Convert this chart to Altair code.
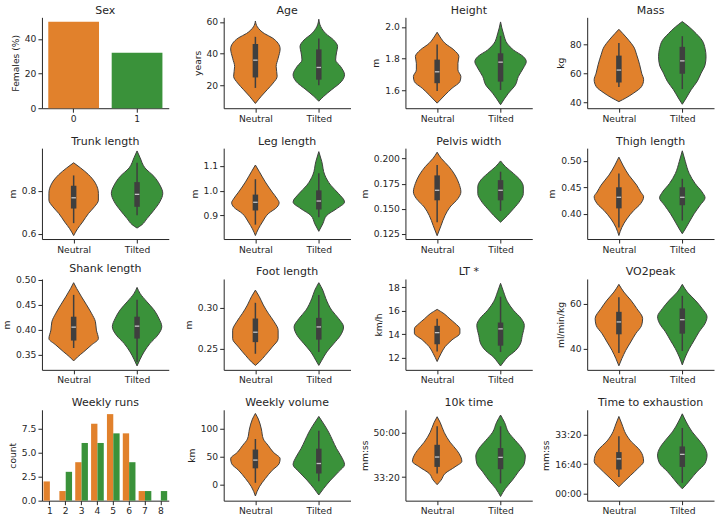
import altair as alt
import pandas as pd

GROUPS = ["Neutral", "Tilted"]
PALETTE = ["#e1812c", "#3a923a"]
INK = "#262626"
LINE = "#3f3f3f"
FONT = "DejaVu Sans"
HALF = 0.39  # half-width of a violin at relative density 1.0 (category units)

# ---- bar panels -------------------------------------------------------------
sex_codes = ["0", "1"]
sex_female_pct = [50, 32]

runs_per_week = [1, 2, 3, 4, 5, 6, 7, 8]
runs_count_neutral = [2, 1, 4, 8, 9, 7, 1, 0]
runs_count_tilted = [0, 3, 6, 6, 7, 4, 1, 1]

# ---- violin profiles: value levels, relative density, box [lo, q1, med, q3, hi]
age_y_neutral = [8.6, 13.2, 17.3, 21.5, 25.7, 31.9, 37.1, 43.0, 46.5, 50.0, 52.7, 56.9, 60.6]
age_w_neutral = [0, .24, .48, .72, .88, .84, .92, 1.0, .92, .68, .36, .08, 0]
age_y_tilted = [10, 13.1, 17.3, 22.5, 26.7, 31.9, 36.0, 41.0, 44.4, 48.6, 52.7, 57.0, 61.7]
age_w_tilted = [0, .2, .52, .92, 1.04, .88, .68, .72, .76, .6, .28, .08, 0]
age_box_neutral = [18.4, 25.0, 35.9, 46.1, 50.6]
age_box_tilted = [20.0, 23.6, 31.3, 42.7, 49.6]

height_y_neutral = [1.519, 1.571, 1.613, 1.655, 1.687, 1.729, 1.771, 1.813, 1.855, 1.897, 1.937, 1.967]
height_w_neutral = [0, .32, .6, .92, .96, .84, .84, .88, .68, .32, .12, 0]
height_y_tilted = [1.509, 1.582, 1.634, 1.687, 1.740, 1.782, 1.813, 1.855, 1.893, 1.956, 2.032]
height_w_tilted = [0, .32, .6, .72, .92, 1.04, .92, .52, .28, .12, 0]
height_box_neutral = [1.596, 1.645, 1.717, 1.794, 1.889]
height_box_tilted = [1.602, 1.655, 1.778, 1.834, 1.944]

mass_y_neutral = [40.7, 43.2, 46.6, 51.1, 55.7, 60.2, 65.9, 72.7, 78.2, 82.7, 87.3, 90.2]
mass_w_neutral = [0, .28, .6, .92, 1.0, .92, .84, .72, .6, .4, .16, 0]
mass_y_tilted = [38.9, 43.2, 48.9, 54.5, 60.2, 65.8, 71.4, 77.1, 82.7, 87.3, 91.8, 95.5]
mass_w_tilted = [0, .16, .36, .6, .76, .92, .96, .92, .8, .56, .28, 0]
mass_box_neutral = [50.7, 53.8, 62.3, 72.2, 80.9]
mass_box_tilted = [49.3, 59.8, 68.6, 78.2, 85.5]

trunk_y_neutral = [0.592, 0.624, 0.655, 0.695, 0.726, 0.757, 0.789, 0.836, 0.876, 0.907, 0.931]
trunk_w_neutral = [0, .16, .36, .6, .84, 1.0, 1.0, .88, .6, .28, 0]
trunk_y_tilted = [0.627, 0.643, 0.671, 0.710, 0.749, 0.789, 0.828, 0.868, 0.907, 0.955, 0.986]
trunk_w_tilted = [0, .2, .4, .68, .92, 1.04, .92, .68, .32, .12, 0]
trunk_box_neutral = [0.650, 0.718, 0.768, 0.824, 0.872]
trunk_box_tilted = [0.687, 0.726, 0.784, 0.841, 0.931]

leg_y_neutral = [0.819, 0.846, 0.873, 0.907, 0.934, 0.951, 0.967, 0.994, 1.035, 1.076, 1.103]
leg_w_neutral = [0, .12, .28, .52, .88, .96, .88, .68, .4, .16, 0]
leg_y_tilted = [0.836, 0.866, 0.900, 0.927, 0.954, 0.988, 1.022, 1.063, 1.117, 1.157]
leg_w_tilted = [0, .16, .32, .72, 1.04, .8, .48, .24, .12, 0]
leg_box_neutral = [0.863, 0.920, 0.953, 0.984, 1.046]
leg_box_tilted = [0.893, 0.924, 0.958, 1.001, 1.070]

pelvis_y_neutral = [0.1233, 0.1335, 0.1435, 0.1518, 0.1602, 0.1669, 0.1753, 0.1837, 0.1920, 0.2004, 0.2064]
pelvis_w_neutral = [0, .16, .32, .52, .84, .96, .88, .72, .48, .16, 0]
pelvis_y_tilted = [0.1367, 0.1435, 0.1500, 0.1585, 0.1652, 0.1719, 0.1786, 0.1853, 0.1920, 0.1977]
pelvis_w_tilted = [0, .28, .52, .8, .92, .92, .8, .52, .2, 0]
pelvis_box_neutral = [0.1367, 0.1585, 0.1685, 0.1833, 0.1936]
pelvis_box_tilted = [0.1480, 0.1585, 0.1685, 0.1786, 0.1870]

thigh_y_neutral = [0.3586, 0.374, 0.390, 0.406, 0.419, 0.432, 0.441, 0.454, 0.473, 0.492, 0.507]
thigh_w_neutral = [0, .12, .32, .6, .88, 1.0, .88, .72, .4, .16, 0]
thigh_y_tilted = [0.362, 0.371, 0.384, 0.400, 0.416, 0.430, 0.441, 0.457, 0.476, 0.499, 0.519]
thigh_w_tilted = [0, .12, .28, .48, .72, .92, .8, .52, .28, .12, 0]
thigh_box_neutral = [0.374, 0.410, 0.431, 0.450, 0.476]
thigh_box_tilted = [0.387, 0.416, 0.431, 0.450, 0.466]

shank_y_neutral = [0.337, 0.345, 0.355, 0.369, 0.382, 0.399, 0.416, 0.433, 0.450, 0.466, 0.483, 0.4945]
shank_w_neutral = [0, .16, .4, .72, 1.0, .92, .88, .72, .52, .32, .12, 0]
shank_y_tilted = [0.327, 0.340, 0.355, 0.372, 0.389, 0.406, 0.423, 0.440, 0.456, 0.473, 0.485]
shank_w_tilted = [0, .12, .28, .52, .84, 1.0, .88, .68, .4, .12, 0]
shank_box_neutral = [0.363, 0.378, 0.405, 0.426, 0.470]
shank_box_tilted = [0.335, 0.382, 0.407, 0.426, 0.460]

foot_y_neutral = [0.2298, 0.234, 0.242, 0.252, 0.2622, 0.2724, 0.2825, 0.293, 0.303, 0.313, 0.321]
foot_w_neutral = [0, .16, .4, .68, .92, .92, .76, .52, .32, .16, 0]
foot_y_tilted = [0.2298, 0.236, 0.246, 0.256, 0.2663, 0.2764, 0.2866, 0.2967, 0.311, 0.321, 0.330]
foot_w_tilted = [0, .12, .32, .6, .88, 1.0, .8, .52, .28, .16, 0]
foot_box_neutral = [0.2439, 0.258, 0.270, 0.2866, 0.3056]
foot_box_tilted = [0.246, 0.261, 0.2764, 0.2874, 0.315]

lt_y_neutral = [11.68, 12.37, 12.94, 13.52, 14.09, 14.46, 14.94, 15.30, 15.75, 16.12]
lt_w_neutral = [0, .16, .32, .6, .92, .92, .72, .52, .28, 0]
lt_y_tilted = [11.3, 11.63, 12.05, 12.6, 13.18, 13.9, 14.76, 15.33, 16.05, 16.77, 17.62, 18.34]
lt_w_tilted = [0, .12, .28, .6, .8, .88, .96, .84, .52, .28, .12, 0]
lt_box_neutral = [12.54, 13.15, 14.14, 14.72, 15.33]
lt_box_tilted = [12.49, 13.03, 14.46, 15.00, 17.20]

vo2_y_neutral = [32.4, 35.6, 39.3, 43.0, 46.7, 50.4, 53.4, 57.9, 61.6, 65.2, 68.6]
vo2_w_neutral = [0, .12, .28, .48, .68, .92, .96, .72, .48, .2, 0]
vo2_y_tilted = [32.8, 36.3, 40.0, 43.7, 47.5, 51.2, 54.2, 57.9, 61.6, 65.2, 68.6]
vo2_w_tilted = [0, .12, .28, .48, .68, .92, 1.0, .8, .52, .2, 0]
vo2_box_neutral = [38.1, 46.4, 51.9, 56.4, 62.9]
vo2_box_tilted = [39.0, 46.7, 52.9, 57.9, 63.5]

volume_y_neutral = [-20.6, -4.2, 10.5, 25.2, 37.0, 45.8, 57.6, 69.3, 81.1, 98.8, 116.4, 126.5]
volume_w_neutral = [0, .16, .4, .68, .96, 1.0, .72, .52, .32, .24, .12, 0]
volume_y_tilted = [-18.8, -6.9, 7.8, 22.5, 35.4, 48.9, 63.7, 78.4, 93.1, 107.8, 121.2]
volume_w_tilted = [0, .2, .48, .8, 1.04, .92, .72, .56, .4, .2, 0]
volume_box_neutral = [2.9, 28.7, 43.4, 62.2, 81.0]
volume_box_tilted = [5.9, 19.5, 37.3, 63.7, 95.6]

# times in seconds
tenk_y_neutral = [1831, 1934, 2083, 2232, 2358, 2455, 2604, 2791, 3015, 3238, 3364]
tenk_w_neutral = [0, .16, .32, .72, 1.0, .96, .8, .52, .28, .12, 0]
tenk_y_tilted = [1564, 1748, 1934, 2120, 2306, 2478, 2642, 2828, 3015, 3238, 3402]
tenk_w_tilted = [0, .2, .48, .72, .96, 1.0, .88, .6, .32, .16, 0]
tenk_box_neutral = [2083, 2232, 2455, 2731, 3149]
tenk_box_tilted = [1860, 2180, 2448, 2657, 3149]

tte_y_neutral = [224, 393, 620, 847, 1095, 1299, 1525, 1750, 2034, 2373, 2630]
tte_w_neutral = [0, .2, .48, .76, 1.0, .96, .8, .52, .28, .12, 0]
tte_y_tilted = [156, 300, 464, 746, 1029, 1311, 1537, 1819, 2102, 2441, 2720]
tte_w_tilted = [0, .16, .32, .6, .92, 1.0, .92, .68, .4, .16, 0]
tte_box_neutral = [563, 815, 1180, 1412, 1953]
tte_box_tilted = [359, 904, 1333, 1605, 2237]

W, H = 127, 91
COLOR = alt.Color("group:N", scale=alt.Scale(domain=GROUPS, range=PALETTE), legend=None)
MMSS = ("pad('' + floor(datum.value / 60), 2, '0', 'left') + ':' + "
        "pad('' + (datum.value % 60), 2, '0', 'left')")


def violin_panel(title, ylabel, profiles, boxes, domain, ticks, fmt=None, mmss=False):
    rows = []
    for pos, (levels, dens) in enumerate(profiles):
        for y, d in sorted(zip(levels, dens)):
            rows.append({"group": GROUPS[pos], "y": y,
                         "left": pos - HALF * d, "right": pos + HALF * d})
    outline = pd.DataFrame(rows)
    stats = pd.DataFrame([
        {"group": GROUPS[i], "pos": i, "lo": b[0], "q1": b[1], "med": b[2], "q3": b[3], "hi": b[4]}
        for i, b in enumerate(boxes)
    ])

    xs = alt.Scale(domain=[-0.5, 1.5], nice=False, zero=False)
    xa = alt.Axis(values=[0, 1], labelExpr="datum.value == 0 ? 'Neutral' : 'Tilted'")
    ys = alt.Scale(domain=domain, nice=False, zero=False)
    ya_kw = {"values": ticks}
    if fmt:
        ya_kw["format"] = fmt
    if mmss:
        ya_kw["labelExpr"] = MMSS
    ya = alt.Axis(**ya_kw)

    def X(f):
        return alt.X(f, scale=xs, axis=xa, title=None)

    def Y(f):
        return alt.Y(f, scale=ys, axis=ya, title=ylabel)

    violins = alt.Chart(outline).mark_area(
        orient="horizontal", interpolate="monotone", stroke=LINE, strokeWidth=1, opacity=1
    ).encode(y=Y("y:Q"), x=X("left:Q"), x2="right:Q", color=COLOR)

    whisker = alt.Chart(stats).mark_rule(color=LINE, strokeWidth=1.5).encode(
        x=X("pos:Q"), y=Y("lo:Q"), y2="hi:Q")
    box = alt.Chart(stats).mark_rule(color=LINE, strokeWidth=5.5, strokeCap="butt").encode(
        x=X("pos:Q"), y=Y("q1:Q"), y2="q3:Q")
    median = alt.Chart(stats).mark_tick(color="white", orient="horizontal", size=4.5, thickness=1.3).encode(
        x=X("pos:Q"), y=Y("med:Q"))

    return alt.layer(violins, whisker, box, median).properties(title=title, width=W, height=H)


band = alt.Scale(paddingInner=0.2, paddingOuter=0.1)

sex_df = pd.DataFrame({"sex": sex_codes, "pct": sex_female_pct, "group": GROUPS})
sex_panel = alt.Chart(sex_df).mark_bar().encode(
    x=alt.X("sex:N", scale=band, axis=alt.Axis(labelAngle=0), title=None),
    y=alt.Y("pct:Q", scale=alt.Scale(domain=[0, 52.5], nice=False),
            axis=alt.Axis(values=[0, 20, 40]), title="Females (%)"),
    color=COLOR,
).properties(title="Sex", width=W, height=H)

runs_df = pd.DataFrame(
    [{"runs": r, "count": c, "group": "Neutral"} for r, c in zip(runs_per_week, runs_count_neutral)]
    + [{"runs": r, "count": c, "group": "Tilted"} for r, c in zip(runs_per_week, runs_count_tilted)]
)
runs_panel = alt.Chart(runs_df).mark_bar().encode(
    x=alt.X("runs:O", scale=band, axis=alt.Axis(labelAngle=0), title=None),
    xOffset=alt.XOffset("group:N", sort=GROUPS),
    y=alt.Y("count:Q", scale=alt.Scale(domain=[0, 9.45], nice=False),
            axis=alt.Axis(values=[0, 2.5, 5, 7.5], format=".1f"), title="count"),
    color=COLOR,
).properties(title="Weekly runs", width=W, height=H)

panels = [
    sex_panel,
    violin_panel("Age", "years", [(age_y_neutral, age_w_neutral), (age_y_tilted, age_w_tilted)],
                 [age_box_neutral, age_box_tilted], [5.6, 62.9], [20, 40, 60]),
    violin_panel("Height", "m", [(height_y_neutral, height_w_neutral), (height_y_tilted, height_w_tilted)],
                 [height_box_neutral, height_box_tilted], [1.487, 2.061], [1.6, 1.8, 2.0], ".1f"),
    violin_panel("Mass", "kg", [(mass_y_neutral, mass_w_neutral), (mass_y_tilted, mass_w_tilted)],
                 [mass_box_neutral, mass_box_tilted], [36.2, 98.4], [40, 60, 80]),
    violin_panel("Trunk length", "m", [(trunk_y_neutral, trunk_w_neutral), (trunk_y_tilted, trunk_w_tilted)],
                 [trunk_box_neutral, trunk_box_tilted], [0.576, 0.999], [0.6, 0.8], ".1f"),
    violin_panel("Leg length", "m", [(leg_y_neutral, leg_w_neutral), (leg_y_tilted, leg_w_tilted)],
                 [leg_box_neutral, leg_box_tilted], [0.805, 1.171], [0.9, 1.0, 1.1], ".1f"),
    violin_panel("Pelvis width", "m", [(pelvis_y_neutral, pelvis_w_neutral), (pelvis_y_tilted, pelvis_w_tilted)],
                 [pelvis_box_neutral, pelvis_box_tilted], [0.120, 0.2104], [0.125, 0.15, 0.175, 0.2], ".3f"),
    violin_panel("Thigh length", "m", [(thigh_y_neutral, thigh_w_neutral), (thigh_y_tilted, thigh_w_tilted)],
                 [thigh_box_neutral, thigh_box_tilted], [0.352, 0.524], [0.40, 0.45, 0.50], ".2f"),
    violin_panel("Shank length", "m", [(shank_y_neutral, shank_w_neutral), (shank_y_tilted, shank_w_tilted)],
                 [shank_box_neutral, shank_box_tilted], [0.319, 0.502], [0.35, 0.40, 0.45, 0.50], ".2f"),
    violin_panel("Foot length", "m", [(foot_y_neutral, foot_w_neutral), (foot_y_tilted, foot_w_tilted)],
                 [foot_box_neutral, foot_box_tilted], [0.2244, 0.3345], [0.25, 0.30], ".2f"),
    violin_panel("LT *", "km/h", [(lt_y_neutral, lt_w_neutral), (lt_y_tilted, lt_w_tilted)],
                 [lt_box_neutral, lt_box_tilted], [10.97, 18.71], [12, 14, 16, 18]),
    violin_panel("VO2peak", "ml/min/kg", [(vo2_y_neutral, vo2_w_neutral), (vo2_y_tilted, vo2_w_tilted)],
                 [vo2_box_neutral, vo2_box_tilted], [30.6, 71.0], [40, 60]),
    runs_panel,
    violin_panel("Weekly volume", "km", [(volume_y_neutral, volume_w_neutral), (volume_y_tilted, volume_w_tilted)],
                 [volume_box_neutral, volume_box_tilted], [-28.9, 133], [0, 50, 100]),
    violin_panel("10k time", "mm:ss", [(tenk_y_neutral, tenk_w_neutral), (tenk_y_tilted, tenk_w_tilted)],
                 [tenk_box_neutral, tenk_box_tilted], [1470, 3521], [2000, 3000], mmss=True),
    violin_panel("Time to exhaustion", "mm:ss", [(tte_y_neutral, tte_w_neutral), (tte_y_tilted, tte_w_tilted)],
                 [tte_box_neutral, tte_box_tilted], [-250, 2858], [0, 1000, 2000], mmss=True),
]

chart = alt.concat(
    *panels, columns=4, spacing={"row": 40, "column": 55}, bounds="flush"
).properties(
    padding={"left": 2, "top": 4, "right": 4, "bottom": 4}
).configure_view(
    strokeWidth=0
).configure_axis(
    grid=False,
    domainColor=INK, domainWidth=1,
    tickColor=INK, tickWidth=1, tickSize=4,
    labelColor=INK, labelFont=FONT, labelFontSize=9.2, labelPadding=2,
    titleColor=INK, titleFont=FONT, titleFontSize=9.2, titleFontWeight="normal", titlePadding=4,
).configure_title(
    font=FONT, fontSize=11, fontWeight="normal", color=INK, offset=1.5, anchor="middle"
).configure_bar(
    stroke=None
)

chart.save("out.html", embed_options={"renderer": "svg", "actions": False})
